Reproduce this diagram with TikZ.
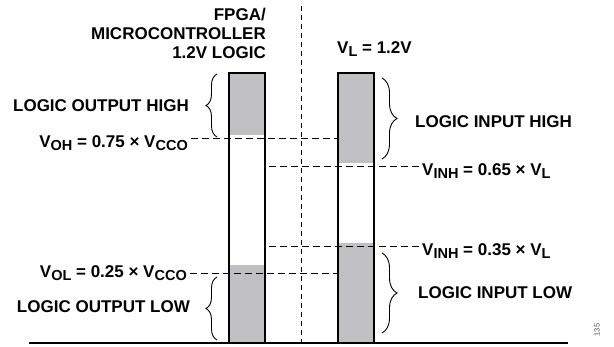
\documentclass[tikz,border=0pt]{standalone}
\usepackage{fontspec}
\setmainfont{Liberation Sans}
\usetikzlibrary{decorations.pathreplacing}
\definecolor{barfill}{RGB}{192,192,194}
\definecolor{tagcol}{RGB}{80,80,80}
\newcommand{\sbs}[1]{\raisebox{-3pt}{\fontsize{14.5}{14.5}\selectfont #1}}
\tikzset{
  lbl/.style={font=\fontsize{17}{19}\selectfont\bfseries, inner sep=0pt},
  levbar/.style={minimum width=36pt, minimum height=270pt,
      anchor=south west, inner sep=0pt, outer sep=0pt},
  barline/.style={draw=black, line width=1.4pt},
  lvl/.style={line width=0.8pt, dash pattern=on 7pt off 4pt},
  sepline/.style={line width=0.8pt, dash pattern=on 5pt off 4pt},
  brc/.style={line width=0.9pt, decorate, decoration={brace, amplitude=#1}},
  brc/.default=11pt,
}

\begin{document}
\begin{tikzpicture}[x=1pt, y=-1pt]
  \useasboundingbox (0,0) rectangle (614,347);
  % the two level bars
  \node[levbar] (outbar) at (229,343) {};
  \node[levbar] (inbar) at (338,343) {};
  % titles
  \node[lbl, anchor=east, align=right] (fpga) at (266,33) {FPGA/\\MICROCONTROLLER\\1.2V LOGIC};
  \node[lbl, anchor=west] (vl) at (337,49) {V\sbs{L} = 1.2V};
  % threshold labels
  \node[lbl, anchor=north east] (voh) at (188,135) {V\sbs{OH} = 0.75 × V\sbs{CCO}};
  \node[lbl, anchor=north east] (vol) at (187,265) {V\sbs{OL} = 0.25 × V\sbs{CCO}};
  \node[lbl, anchor=north west] (vih) at (422,163) {V\sbs{INH} = 0.65 × V\sbs{L}};
  \node[lbl, anchor=north west] (vil) at (422,243) {V\sbs{INH} = 0.35 × V\sbs{L}};
  % region labels
  \node[lbl, anchor=east] (ohtxt) at (189,106) {LOGIC OUTPUT HIGH};
  \node[lbl, anchor=east] (oltxt) at (190,307) {LOGIC OUTPUT LOW};
  \node[lbl, anchor=west] (ihtxt) at (415,122) {LOGIC INPUT HIGH};
  \node[lbl, anchor=west] (iltxt) at (418,293) {LOGIC INPUT LOW};
  \node[font=\fontsize{7.5}{8}\selectfont, text=tagcol, rotate=90, inner sep=0pt] (tag) at (597,330) {135};
  % gray zones
  \fill[barfill] (outbar.north west) rectangle (outbar.east |- voh.north east);
  \fill[barfill] (outbar.south east) rectangle (outbar.west |- vol.north east);
  \fill[barfill] (inbar.north west) rectangle (inbar.east |- vih.north west);
  \fill[barfill] (inbar.south east) rectangle (inbar.west |- vil.north west);
  % threshold lines
  \draw[lvl, shorten <=3pt] ([yshift=-3pt]voh.north east) -- ([yshift=-3pt]voh.north east -| inbar.west);
  \draw[lvl, shorten <=3pt] ([yshift=-8pt]vol.north east) -- ([yshift=-8pt]vol.north east -| inbar.west);
  \draw[lvl, shorten <=3pt] ([yshift=-3pt]vih.north west) -- ([yshift=-3pt]vih.north west -| outbar.east);
  \draw[lvl, shorten <=3pt] ([yshift=-3pt]vil.north west) -- ([yshift=-3pt]vil.north west -| outbar.east);
  % bar outlines
  \draw[barline] (outbar.south west) rectangle (outbar.north east);
  \draw[barline] (inbar.south west) rectangle (inbar.north east);
  % separator and ground line
  \coordinate (septop) at (301,6);
  \coordinate (sepbot) at (301,343);
  \draw[sepline] (septop) -- (sepbot);
  \coordinate (gndl) at (29,343);
  \coordinate (gndr) at (568,343);
  \draw[line width=1.6pt] (gndl) -- (gndr);
  % braces
  \draw[brc] (217,137) -- (217,74);
  \draw[brc] (217,340) -- (217,277);
  \draw[brc=15pt] (382,78) -- (382,159);
  \draw[brc=15pt] (382,253) -- (382,333);
\end{tikzpicture}
\end{document}
